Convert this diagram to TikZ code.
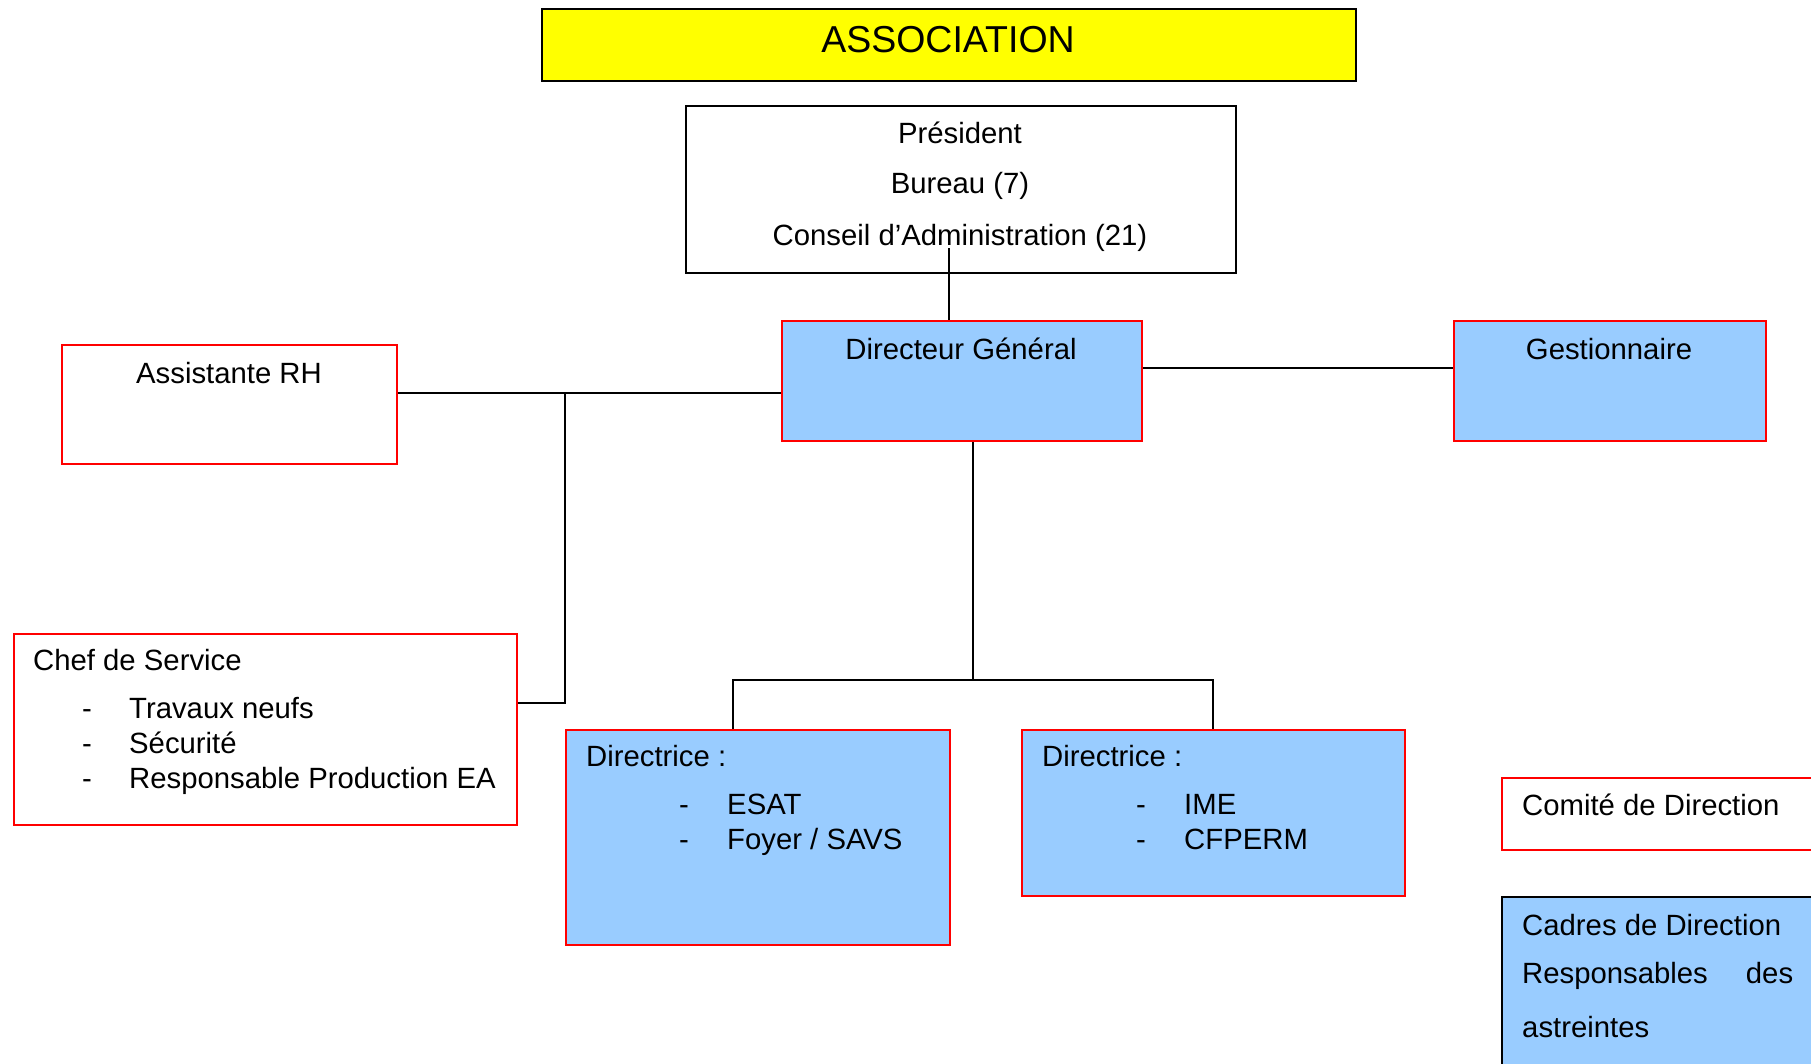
\documentclass[tikz,border=0pt]{standalone}
\usepackage{fontspec}
\setmainfont{Liberation Sans}
\definecolor{boxblue}{HTML}{99CCFF}
\definecolor{boxred}{HTML}{FF0000}
\definecolor{titleyellow}{HTML}{FFFF00}
\tikzset{
  frame/.style={draw=black, line width=2pt, inner sep=0pt, anchor=north west},
  redbox/.style={frame, draw=boxred},
  bluebox/.style={redbox, fill=boxblue},
  txt/.style={inner sep=0pt, font=\fontsize{29.3}{35}\selectfont},
  link/.style={line width=2pt, draw=black},
}
\begin{document}
\begin{tikzpicture}[x=1pt,y=-1pt]
\useasboundingbox (0,0) rectangle (1811,1063);
\fill[white] (0,0) rectangle (1811,1063);
\clip (0,0) rectangle (1811,1063);

% boxes
\node[frame, fill=titleyellow, minimum width=814pt, minimum height=72pt] (assoc) at (541,8) {};
\node[frame, minimum width=550pt, minimum height=167pt] (pres) at (685,105) {};
\node[bluebox, minimum width=360pt, minimum height=120pt] (dg) at (781,320) {};
\node[bluebox, minimum width=312pt, minimum height=120pt] (gest) at (1453,320) {};
\node[redbox, minimum width=335pt, minimum height=119pt] (arh) at (61,344) {};
\node[redbox, minimum width=503pt, minimum height=191pt] (chef) at (13,633) {};
\node[bluebox, minimum width=384pt, minimum height=215pt] (dir1) at (565,729) {};
\node[bluebox, minimum width=383pt, minimum height=166pt] (dir2) at (1021,729) {};
\node[redbox, minimum width=400pt, minimum height=72pt] (codir) at (1501,777) {};
\node[frame, fill=boxblue, minimum width=400pt, minimum height=250pt] (cadres) at (1501,896) {};

% connectors
\coordinate (c0) at (949,248);
\draw[link] (c0) -- (c0 |- dg.north);
\coordinate (j1) at (565,393);
\coordinate (j2) at (565,703);
\draw[link] (arh.east |- j1) -- (dg.west |- j1);
\draw[link] (j1) -- (j2) -- (chef.east |- j2);
\coordinate (g1) at (1300,368);
\draw[link] (dg.east |- g1) -- (gest.west |- g1);
\coordinate (b1) at (973,680);
\coordinate (bl) at (733,680);
\coordinate (br) at (1213,680);
\draw[link] (b1 |- dg.south) -- (b1);
\draw[link] (bl |- dir1.north) -- (bl) -- (br) -- (br |- dir2.north);

% texts
\node[txt, font=\fontsize{37.5}{40}\selectfont, anchor=base] (assoct) at (948,52) {ASSOCIATION};
\node[txt, anchor=base] (prest1) at (960,143) {Président};
\node[txt, anchor=base] (prest2) at (960,193) {Bureau (7)};
\node[txt, anchor=base] (prest3) at (960,245) {Conseil d’Administration (21)};
\node[txt, anchor=base] (dgt) at (961,359) {Directeur Général};
\node[txt, anchor=base] (gestt) at (1609,359) {Gestionnaire};
\node[txt, anchor=base] (arht) at (229,383) {Assistante RH};

\node[txt, anchor=base west] (chefa) at (33,670) {Chef de Service};
\node[txt, anchor=base west] (chefd1) at (82,718) {-};
\node[txt, anchor=base west] (chefb) at (129,718) {Travaux neufs};
\node[txt, anchor=base west] (chefd2) at (82,753) {-};
\node[txt, anchor=base west] (chefc) at (129,753) {Sécurité};
\node[txt, anchor=base west] (chefd3) at (82,788) {-};
\node[txt, anchor=base west] (chefe) at (129,788) {Responsable Production EA};

\node[txt, anchor=base west] (dira) at (586,766) {Directrice :};
\node[txt, anchor=base west] (dird1) at (679,814) {-};
\node[txt, anchor=base west] (dirb) at (727,814) {ESAT};
\node[txt, anchor=base west] (dird2) at (679,849) {-};
\node[txt, anchor=base west] (dirc) at (727,849) {Foyer / SAVS};

\node[txt, anchor=base west] (dirra) at (1042,766) {Directrice :};
\node[txt, anchor=base west] (dirrd1) at (1136,814) {-};
\node[txt, anchor=base west] (dirrb) at (1184,814) {IME};
\node[txt, anchor=base west] (dirrd2) at (1136,849) {-};
\node[txt, anchor=base west] (dirrc) at (1184,849) {CFPERM};

\node[txt, anchor=base west] (codirt) at (1522,815) {Comité de Direction};
\node[txt, anchor=base west] (cadrest1) at (1522,935) {Cadres de Direction};
\node[txt, anchor=base west] (cadrest2) at (1522,983) {\makebox[271pt][l]{Responsables\hfill des}};
\node[txt, anchor=base west] (cadrest3) at (1522,1037) {astreintes};
\end{tikzpicture}
\end{document}
